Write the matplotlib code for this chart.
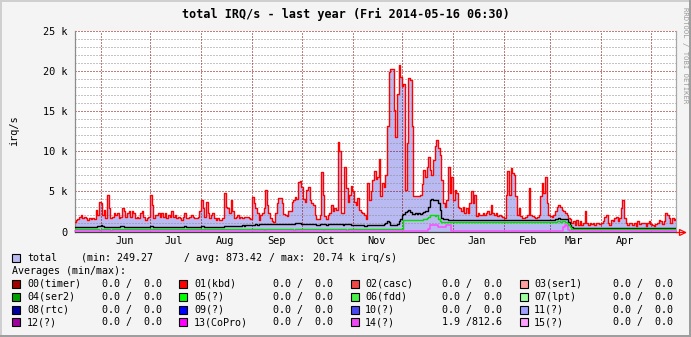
import datetime as dt
import matplotlib
matplotlib.use("Agg")
import matplotlib.pyplot as plt
from matplotlib.patches import Rectangle
from matplotlib.lines import Line2D
import matplotlib.transforms as mtransforms

W, H, DPI = 691, 337, 100
MONO = "DejaVu Sans Mono"

TITLE = "total IRQ/s - last year (Fri 2014-05-16 06:30)"
Y_LABEL = "irq/s"
START = dt.datetime(2013, 5, 16, 6, 30)
END = dt.datetime(2014, 5, 16, 6, 30)

# daily total interrupt rate, thousands per second
may13 = [1.15, 1.45, 1.6, 1.85, 2.1, 1.65, 1.85, 1.7, 1.45, 1.7, 1.5, 1.65, 1.6, 2.7, 2.1, 3.7]
jun13 = [3.6, 2.1, 2.7, 1.65, 4.56, 2.9, 1.65, 1.85, 2.3, 2.1, 2.3, 1.65, 1.85, 2.9, 2.5,
         1.85, 2.3, 2.5, 1.85, 2.5, 2.3, 1.65, 1.85, 1.65, 2.3, 2.5, 1.85, 1.45, 1.65, 1.8]
jul13 = [4.56, 3.3, 1.65, 2.1, 2.1, 2.3, 1.85, 2.3, 1.85, 2.3, 1.65, 2.1, 1.85, 2.5, 1.85, 2.1,
         1.65, 1.85, 1.65, 1.45, 1.85, 2.3, 1.65, 1.65, 1.85, 2.1, 1.85, 1.65, 1.65, 1.85, 2.5]
aug13 = [3.9, 2.9, 1.85, 3.7, 2.3, 1.65, 2.1, 2.3, 1.65, 1.45, 1.65, 1.45, 1.45, 1.65, 4.77, 3.1,
         2.9, 2.3, 3.9, 2.5, 1.65, 1.85, 2.1, 1.65, 1.85, 1.65, 1.85, 1.85, 1.85, 1.65, 1.6]
sep13 = [4.35, 3.5, 2.9, 2.3, 1.45, 2.1, 2.3, 2.9, 5.2, 3.3, 2.3, 1.65, 1.3, 1.2, 2.3,
         3.5, 4.15, 4.2, 3.5, 2.2, 2.1, 1.9, 2.5, 2.5, 3.7, 3.9, 4.3, 4.0, 6.2, 6.3]
oct13 = [5.6, 4.0, 3.7, 5.2, 5.6, 3.9, 3.5, 3.3, 2.1, 1.6, 1.6, 2.0, 7.4, 4.6, 1.9, 1.5,
         2.1, 2.3, 3.3, 2.6, 2.9, 2.7, 11.1, 10.0, 2.3, 2.3, 8.1, 5.4, 3.7, 4.6, 5.7]
nov13 = [5.0, 3.7, 3.3, 4.2, 2.7, 2.4, 2.3, 2.1, 1.6, 6.1, 3.9, 5.0, 6.4, 7.5, 6.6,
         6.85, 9.1, 4.4, 6.0, 5.6, 7.1, 13.1, 19.9, 20.3, 20.3, 15.1, 11.8, 17.2, 20.74, 19.3]
dec13 = [18.2, 18.4, 5.2, 11.0, 19.1, 18.9, 13.1, 4.4, 4.4, 4.4, 4.4, 4.6, 5.9, 7.7, 6.8, 8.1,
         9.3, 7.7, 7.1, 8.9, 10.6, 11.4, 10.4, 9.5, 6.4, 3.5, 3.1, 3.9, 8.1, 4.8, 6.8]
jan14 = [3.9, 5.2, 4.8, 3.1, 2.9, 2.5, 3.1, 2.3, 2.9, 2.3, 3.5, 5.0, 3.5, 4.6, 1.9, 2.3,
         2.1, 2.1, 2.3, 2.1, 2.3, 2.5, 2.2, 3.3, 2.3, 2.1, 2.3, 1.9, 2.1, 1.9, 1.8]
feb14 = [1.7, 4.6, 7.5, 4.6, 7.9, 7.3, 7.1, 4.4, 2.1, 2.9, 1.9, 1.7, 1.7, 1.8,
         2.0, 5.4, 2.1, 1.9, 1.8, 1.7, 1.8, 2.0, 4.4, 6.0, 4.8, 6.8, 3.5, 2.1]
mar14 = [1.9, 1.8, 2.0, 2.5, 3.1, 3.3, 3.1, 2.7, 2.5, 2.3, 2.1, 1.7, 1.5, 1.05, 1.25, 0.85,
         1.45, 0.85, 1.25, 0.85, 1.05, 2.5, 1.05, 0.85, 1.05, 0.95, 1.05, 0.85, 1.05, 1.05, 0.95]
apr14 = [1.05, 1.25, 1.87, 2.1, 1.05, 0.85, 1.45, 1.25, 1.65, 1.87, 1.25, 1.65, 2.9, 3.9, 1.65,
         1.05, 0.85, 1.05, 1.05, 0.85, 1.05, 0.7, 1.25, 0.95, 1.05, 1.05, 1.05, 0.7, 1.05, 1.25]
may14 = [0.95, 0.85, 0.65, 0.95, 1.05, 1.45, 1.25, 0.95, 1.25, 2.3, 2.1, 1.65, 1.05, 1.7, 1.45, 1.6]

# daily base load line (black), thousands per second
base_k = [
    0.58, 0.58, 0.6, 0.58, 0.58, 0.58, 0.6, 0.58, 0.58, 0.58, 0.58, 0.6, 0.58, 0.62, 0.66, 0.74,
    0.78, 0.74, 0.62, 0.58, 0.58, 0.6, 0.58, 0.58, 0.58, 0.58, 0.6, 0.58, 0.66, 0.72, 0.62,
    0.58, 0.58, 0.58, 0.6, 0.58, 0.58, 0.58, 0.58, 0.6, 0.58, 0.58, 0.58, 0.58, 0.6, 0.62,
    0.74, 0.66, 0.58, 0.58, 0.58, 0.6, 0.58, 0.58, 0.58, 0.58, 0.6, 0.58, 0.58, 0.58, 0.58, 0.6,
    0.58, 0.58, 0.58, 0.58, 0.62, 0.66, 0.6, 0.58, 0.58, 0.58, 0.58, 0.6, 0.58, 0.58, 0.62,
    0.74, 0.68, 0.62, 0.6, 0.6, 0.6, 0.58, 0.6, 0.6, 0.6, 0.6, 0.62, 0.6, 0.62, 0.66, 0.64,
    0.66, 0.7, 0.72, 0.7, 0.74, 0.72, 0.74, 0.74, 0.74, 0.76, 0.74, 0.76, 0.76, 0.76, 0.78,
    0.84, 0.86, 0.88, 0.86, 0.88, 0.9, 0.9, 0.92, 0.9, 0.9, 0.88, 0.9, 0.9, 0.92, 0.9,
    0.9, 0.92, 0.94, 0.92, 0.92, 0.9, 0.92, 0.94, 0.96, 0.96, 0.98, 1.0, 1.02, 1.04, 1.02,
    0.98, 0.94, 0.92, 0.9, 0.9, 0.88, 0.9, 0.9, 0.88, 0.86, 0.86, 0.9, 0.94, 0.92, 0.88, 0.86,
    0.88, 0.9, 0.9, 0.92, 0.9, 0.9, 0.96, 0.94, 0.88, 0.86, 0.9, 0.92, 0.9, 0.88, 0.86,
    0.84, 0.8, 0.78, 0.78, 0.76, 0.76, 0.76, 0.74, 0.74, 0.76, 0.76, 0.78, 0.76, 0.76, 0.78,
    0.8, 0.82, 0.8, 0.78, 0.9, 1.1, 1.25, 1.2, 0.86, 0.8, 0.8, 0.84, 0.9, 1.25, 1.6,
    2.1, 2.2, 2.4, 2.5, 2.7, 2.4, 2.2, 2.2, 2.3, 2.2, 2.3, 2.2, 2.3, 2.4, 2.5, 2.6,
    3.1, 3.9, 4.0, 3.9, 3.9, 3.9, 3.6, 2.7, 1.7, 1.6, 1.5, 1.5, 1.45, 1.45, 1.42,
    1.42, 1.4, 1.4, 1.4, 1.38, 1.4, 1.4, 1.38, 1.4, 1.4, 1.4, 1.42, 1.4, 1.4, 1.38, 1.38,
    1.4, 1.4, 1.4, 1.38, 1.4, 1.4, 1.4, 1.4, 1.38, 1.4, 1.4, 1.4, 1.38, 1.4, 1.4,
    1.4, 1.42, 1.44, 1.42, 1.42, 1.4, 1.42, 1.4, 1.4, 1.4, 1.38, 1.4, 1.4, 1.4,
    1.4, 1.42, 1.4, 1.4, 1.4, 1.38, 1.4, 1.4, 1.42, 1.44, 1.44, 1.42, 1.4, 1.4,
    1.4, 1.42, 1.45, 1.6, 1.62, 1.64, 1.62, 1.6, 1.58, 1.55, 1.5, 1.2, 0.8, 0.5, 0.42, 0.42,
    0.42, 0.42, 0.44, 0.42, 0.42, 0.42, 0.42, 0.42, 0.44, 0.42, 0.42, 0.42, 0.42, 0.42, 0.42,
    0.42, 0.42, 0.42, 0.44, 0.42, 0.42, 0.42, 0.42, 0.42, 0.42, 0.42, 0.44, 0.42, 0.42, 0.42,
    0.42, 0.42, 0.42, 0.42, 0.42, 0.44, 0.42, 0.42, 0.42, 0.42, 0.42, 0.42, 0.42, 0.42, 0.42,
    0.42, 0.42, 0.42, 0.42, 0.44, 0.42, 0.42, 0.42, 0.42, 0.42, 0.42, 0.42, 0.42, 0.42, 0.42, 0.42,
]

# daily 05(?) rate (green), thousands per second
irq05_k = [
    0.32, 0.32, 0.32, 0.32, 0.32, 0.32, 0.32, 0.32, 0.32, 0.32, 0.32, 0.32, 0.32, 0.32, 0.32, 0.2,
    0.32, 0.32, 0.32, 0.32, 0.32, 0.32, 0.2, 0.32, 0.32, 0.32, 0.32, 0.32, 0.32, 0.32, 0.32,
    0.32, 0.32, 0.32, 0.32, 0.32, 0.32, 0.32, 0.32, 0.32, 0.32, 0.32, 0.32, 0.32, 0.32, 0.32,
    0.32, 0.32, 0.32, 0.32, 0.32, 0.32, 0.32, 0.32, 0.32, 0.32, 0.32, 0.32, 0.32, 0.32, 0.32, 0.32,
    0.32, 0.32, 0.32, 0.32, 0.32, 0.32, 0.32, 0.32, 0.32, 0.32, 0.32, 0.32, 0.32, 0.32, 0.32,
    0.32, 0.32, 0.32, 0.32, 0.32, 0.32, 0.32, 0.32, 0.32, 0.32, 0.32, 0.32, 0.32, 0.32, 0.32, 0.32,
    0.32, 0.32, 0.32, 0.32, 0.32, 0.32, 0.32, 0.32, 0.32, 0.32, 0.32, 0.32, 0.32, 0.32, 0.32,
    0.32, 0.32, 0.32, 0.32, 0.32, 0.32, 0.32, 0.2, 0.32, 0.32, 0.32, 0.32, 0.32, 0.32, 0.32,
    0.32, 0.32, 0.32, 0.32, 0.32, 0.32, 0.32, 0.32, 0.32, 0.32, 0.2, 0.32, 0.32, 0.32, 0.32,
    0.32, 0.32, 0.32, 0.32, 0.32, 0.32, 0.32, 0.32, 0.32, 0.32, 0.32, 0.32, 0.32, 0.2, 0.32, 0.32,
    0.32, 0.32, 0.32, 0.32, 0.32, 0.32, 0.32, 0.32, 0.32, 0.32, 0.32, 0.2, 0.32, 0.32, 0.32,
    0.32, 0.32, 0.32, 0.32, 0.32, 0.32, 0.32, 0.32, 0.32, 0.32, 0.32, 0.32, 0.32, 0.32, 0.32,
    0.32, 0.32, 0.32, 0.32, 0.32, 0.32, 0.32, 0.32, 0.32, 0.32, 0.32, 0.32, 0.32, 0.32, 0.32,
    0.32, 1.4, 1.42, 1.4, 1.4, 1.4, 1.4, 1.4, 1.42, 1.4, 1.4, 1.42, 1.45, 1.5, 1.55, 1.65,
    1.8, 2.05, 2.1, 2.0, 1.95, 2.1, 1.5, 1.25, 1.2, 1.18, 1.16, 1.15, 1.15, 1.15, 1.15,
    1.15, 1.15, 1.15, 1.15, 1.15, 1.15, 1.15, 1.15, 1.15, 1.15, 1.15, 1.15, 1.15, 1.15, 1.15, 1.15,
    1.15, 1.15, 1.15, 1.15, 1.15, 1.15, 1.15, 1.15, 1.15, 1.15, 1.15, 1.15, 1.15, 1.15, 1.15,
    1.15, 1.15, 1.15, 1.15, 1.15, 1.15, 1.15, 1.15, 1.15, 1.15, 1.15, 1.15, 1.15, 1.15,
    1.15, 1.15, 1.15, 1.15, 1.15, 1.15, 1.15, 1.15, 1.15, 1.15, 1.15, 1.15, 1.15, 1.15,
    1.15, 1.15, 1.18, 1.2, 1.3, 1.25, 1.2, 1.3, 1.25, 1.2, 1.0, 0.8, 0.5, 0.36, 0.36, 0.36,
    0.36, 0.36, 0.36, 0.36, 0.36, 0.36, 0.36, 0.36, 0.36, 0.36, 0.36, 0.36, 0.36, 0.36, 0.36,
    0.36, 0.36, 0.36, 0.36, 0.36, 0.36, 0.36, 0.36, 0.36, 0.36, 0.36, 0.36, 0.36, 0.36, 0.36,
    0.36, 0.36, 0.36, 0.36, 0.36, 0.36, 0.36, 0.36, 0.36, 0.36, 0.36, 0.36, 0.36, 0.36, 0.36,
    0.36, 0.36, 0.36, 0.36, 0.36, 0.36, 0.36, 0.36, 0.36, 0.36, 0.36, 0.36, 0.36, 0.36, 0.36, 0.36,
]

# daily 14(?) rate (magenta), thousands per second
irq14_k = [
    0.0019, 0.0019, 0.0019, 0.0019, 0.0019, 0.0019, 0.0019, 0.0019, 0.0019, 0.0019, 0.0019, 0.0019, 0.0019, 0.0019, 0.0019, 0.0019,
    0.0019, 0.0019, 0.0019, 0.0019, 0.0019, 0.0019, 0.0019, 0.0019, 0.0019, 0.0019, 0.0019, 0.0019, 0.0019, 0.0019, 0.0019,
    0.0019, 0.0019, 0.0019, 0.0019, 0.0019, 0.0019, 0.0019, 0.0019, 0.0019, 0.0019, 0.0019, 0.0019, 0.0019, 0.0019, 0.0019,
    0.0019, 0.0019, 0.0019, 0.0019, 0.0019, 0.0019, 0.0019, 0.0019, 0.0019, 0.0019, 0.0019, 0.0019, 0.0019, 0.0019, 0.0019, 0.0019,
    0.0019, 0.0019, 0.0019, 0.0019, 0.0019, 0.0019, 0.0019, 0.0019, 0.0019, 0.0019, 0.0019, 0.0019, 0.0019, 0.0019, 0.0019,
    0.0019, 0.0019, 0.0019, 0.0019, 0.0019, 0.0019, 0.0019, 0.0019, 0.0019, 0.0019, 0.0019, 0.0019, 0.0019, 0.0019, 0.0019, 0.0019,
    0.0019, 0.0019, 0.0019, 0.0019, 0.0019, 0.0019, 0.0019, 0.0019, 0.0019, 0.0019, 0.0019, 0.0019, 0.0019, 0.0019, 0.0019,
    0.0019, 0.0019, 0.0019, 0.0019, 0.0019, 0.0019, 0.0019, 0.0019, 0.0019, 0.0019, 0.0019, 0.0019, 0.0019, 0.0019, 0.0019,
    0.0019, 0.0019, 0.0019, 0.0019, 0.0019, 0.0019, 0.0019, 0.0019, 0.0019, 0.0019, 0.0019, 0.0019, 0.0019, 0.0019, 0.0019,
    0.0019, 0.0019, 0.0019, 0.0019, 0.0019, 0.0019, 0.0019, 0.0019, 0.0019, 0.0019, 0.0019, 0.0019, 0.0019, 0.0019, 0.0019, 0.0019,
    0.0019, 0.0019, 0.0019, 0.0019, 0.0019, 0.0019, 0.0019, 0.0019, 0.0019, 0.0019, 0.0019, 0.0019, 0.0019, 0.0019, 0.0019,
    0.0019, 0.0019, 0.0019, 0.0019, 0.0019, 0.0019, 0.0019, 0.0019, 0.0019, 0.0019, 0.0019, 0.0019, 0.0019, 0.0019, 0.0019,
    0.0019, 0.0019, 0.0019, 0.0019, 0.0019, 0.0019, 0.0019, 0.0019, 0.0019, 0.0019, 0.0019, 0.0019, 0.0019, 0.0019, 0.0019,
    0.0019, 0.0019, 0.0019, 0.0019, 0.0019, 0.0019, 0.0019, 0.0019, 0.0019, 0.0019, 0.0019, 0.0019, 0.0019, 0.0019, 0.0019, 0.0019,
    0.3, 0.8, 0.78, 0.8, 0.79, 0.8, 0.62, 0.6, 0.6, 0.62, 0.6, 0.78, 0.8126, 0.8, 0.0019,
    0.0019, 0.0019, 0.0019, 0.0019, 0.0019, 0.0019, 0.0019, 0.0019, 0.0019, 0.0019, 0.0019, 0.0019, 0.0019, 0.0019, 0.0019, 0.0019,
    0.0019, 0.0019, 0.0019, 0.0019, 0.0019, 0.0019, 0.0019, 0.0019, 0.0019, 0.0019, 0.0019, 0.0019, 0.0019, 0.0019, 0.0019,
    0.0019, 0.0019, 0.0019, 0.0019, 0.0019, 0.0019, 0.0019, 0.0019, 0.0019, 0.0019, 0.0019, 0.0019, 0.0019, 0.0019,
    0.0019, 0.0019, 0.0019, 0.0019, 0.0019, 0.0019, 0.0019, 0.0019, 0.0019, 0.0019, 0.0019, 0.0019, 0.0019, 0.0019,
    0.0019, 0.0019, 0.0019, 0.0019, 0.0019, 0.0019, 0.0019, 0.0019, 0.5, 0.8, 0.65, 0.2, 0.0019, 0.0019, 0.0019, 0.0019,
    0.0019, 0.0019, 0.0019, 0.0019, 0.0019, 0.0019, 0.0019, 0.0019, 0.0019, 0.0019, 0.0019, 0.0019, 0.0019, 0.0019, 0.0019,
    0.0019, 0.0019, 0.0019, 0.0019, 0.0019, 0.0019, 0.0019, 0.0019, 0.0019, 0.0019, 0.0019, 0.0019, 0.0019, 0.0019, 0.0019,
    0.0019, 0.0019, 0.0019, 0.0019, 0.0019, 0.0019, 0.0019, 0.0019, 0.0019, 0.0019, 0.0019, 0.0019, 0.0019, 0.0019, 0.0019,
    0.0019, 0.0019, 0.0019, 0.0019, 0.0019, 0.0019, 0.0019, 0.0019, 0.0019, 0.0019, 0.0019, 0.0019, 0.0019, 0.0019, 0.0019, 0.0019,
]

month_labels = ["Jun", "Jul", "Aug", "Sep", "Oct", "Nov", "Dec", "Jan", "Feb", "Mar", "Apr"]
month_years = [2013, 2013, 2013, 2013, 2013, 2013, 2013, 2014, 2014, 2014, 2014]
month_numbers = [6, 7, 8, 9, 10, 11, 12, 1, 2, 3, 4]

y_ticks = [0, 5, 10, 15, 20, 25]
y_tick_labels = ["0", "5 k", "10 k", "15 k", "20 k", "25 k"]

total_min, total_avg, total_max = 249.27, 873.42, 20.74

irq_names = ["00(timer)", "01(kbd)", "02(casc)", "03(ser1)",
             "04(ser2)", "05(?)", "06(fdd)", "07(lpt)",
             "08(rtc)", "09(?)", "10(?)", "11(?)",
             "12(?)", "13(CoPro)", "14(?)", "15(?)"]
irq_avg_min = [0.0, 0.0, 0.0, 0.0, 0.0, 0.0, 0.0, 0.0,
               0.0, 0.0, 0.0, 0.0, 0.0, 0.0, 1.9, 0.0]
irq_avg_max = [0.0, 0.0, 0.0, 0.0, 0.0, 0.0, 0.0, 0.0,
               0.0, 0.0, 0.0, 0.0, 0.0, 0.0, 812.6, 0.0]
irq_colors = ["#a00000", "#ff0000", "#f04848", "#ffa0a0",
              "#00a000", "#00ff00", "#48f048", "#a0ffa0",
              "#0000a0", "#0000ff", "#4848f0", "#a0a0ff",
              "#a000a0", "#ff00ff", "#f048f0", "#ffa0ff"]

TOTAL_FILL = "#babaf2"
TOTAL_LINE = "#ff0000"
BASE_LINE = "#000000"
IRQ05_LINE = "#00e000"
IRQ14_LINE = "#ff4cff"
MAJOR_GRID = "#800000"
MINOR_GRID = "#8c8c8c"

total_k = may13 + jun13 + jul13 + aug13 + sep13 + oct13 + nov13 + dec13 + jan14 + feb14 + mar14 + apr14 + may14
days = [START + dt.timedelta(days=i) for i in range(len(total_k))]

fig = plt.figure(figsize=(W / DPI, H / DPI), dpi=DPI, facecolor="#f4f4f4")


def fig_rect(x, y, w, h, color):
    fig.patches.append(Rectangle((x / W, 1 - (y + h) / H), w / W, h / H,
                                 transform=fig.transFigure, facecolor=color,
                                 edgecolor="none", zorder=0))


# bevelled image border
fig_rect(0, 0, W, 2, "#cfcfcf")
fig_rect(0, 0, 2, H, "#cfcfcf")
fig_rect(W - 2, 0, 2, H, "#9e9e9e")
fig_rect(0, H - 2, W, 2, "#9e9e9e")

PL, PR, PT, PB = 75, 676, 31, 231.5
ax = fig.add_axes([PL / W, 1 - PB / H, (PR - PL) / W, (PB - PT) / H])
ax.set_facecolor("white")
ax.set_xlim(START, END)
ax.set_ylim(0, 25)

# data
ax.fill_between(days, total_k, step="mid", color=TOTAL_FILL, lw=0, zorder=1)

# dotted grid on top of the area, as rrdtool draws it
dots = (0, (1.0, 2.0))
for v in range(1, 25):
    if v % 5:
        ax.axhline(v, color=MINOR_GRID, lw=0.72, ls=dots, zorder=2)
for v in y_ticks[1:]:
    ax.axhline(v, color=MAJOR_GRID, lw=0.72, ls=dots, zorder=2)
month_starts = [dt.datetime(y, m, 1) for y, m in zip(month_years, month_numbers)] + [dt.datetime(2014, 5, 1)]
for d in month_starts:
    ax.axvline(d, color=MAJOR_GRID, lw=0.72, ls=dots, zorder=2)

ax.plot(days, total_k, drawstyle="steps-mid", color=TOTAL_LINE, lw=1.0, zorder=3)
ax.plot(days, base_k, drawstyle="steps-mid", color=BASE_LINE, lw=1.0, zorder=4)
ax.plot(days, irq05_k, drawstyle="steps-mid", color=IRQ05_LINE, lw=1.0, zorder=4)
ax.plot(days, irq14_k, drawstyle="steps-mid", color=IRQ14_LINE, lw=1.1, zorder=5, clip_on=False)

# axes and ticks
ax.spines["top"].set_visible(False)
ax.spines["left"].set_color("#8c8c8c")
ax.spines["right"].set_color("#a8a8a8")
ax.spines["bottom"].set_color("#404040")
for s in ax.spines.values():
    s.set_linewidth(0.9)

ax.set_yticks(y_ticks, y_tick_labels)
mid_months = [dt.datetime(y, m, 15, 12) for y, m in zip(month_years, month_numbers)]
ax.set_xticks(mid_months, month_labels)
ax.tick_params(axis="y", length=0, pad=5.2, labelsize=7.4)
ax.tick_params(axis="x", length=0, pad=3.2, labelsize=7.4)
for lab in ax.get_xticklabels() + ax.get_yticklabels():
    lab.set_family(MONO)

# arrow at the end of the time axis
tr = mtransforms.blended_transform_factory(ax.transAxes, ax.transData)
ax.add_line(Line2D([1.0, 1.0 + 9 / (PR - PL)], [0, 0], transform=tr, color="red",
                   lw=0.9, clip_on=False, zorder=6))
ax.add_line(Line2D([1.0 + 6 / (PR - PL)], [0], transform=tr, color="red", marker=">",
                   markersize=5, fillstyle="none", markeredgewidth=0.9, clip_on=False, zorder=6))

# texts
fig.text(0.5, 1 - 14.5 / H, TITLE, ha="center", va="center", family=MONO,
         fontsize=8.5, fontweight="bold")
fig.text(14 / W, 1 - 131 / H, Y_LABEL, rotation=90, ha="center", va="center",
         family=MONO, fontsize=7.4)
fig.text(685.5 / W, 1 - 7 / H, "RRDTOOL / TOBI OETIKER", rotation=270, ha="center",
         va="top", family=MONO, fontsize=5.2, color="#9a9a9a")


def ftext(x, y, s, **kw):
    fig.text(x / W, 1 - y / H, s, ha="left", va="center", family=MONO, fontsize=7.2, **kw)


def swatch(x, y, color):
    fig.patches.append(Rectangle((x / W, 1 - (y + 4) / H), 8 / W, 8 / H,
                                 transform=fig.transFigure, facecolor=color,
                                 edgecolor="black", lw=0.8, zorder=3))


swatch(12, 258, TOTAL_FILL)
ftext(27, 258, "total")
ftext(81, 258, f"(min: {total_min:.2f}")
ftext(184, 258, f"/ avg: {total_avg:.2f}")
ftext(269, 258, "/ max:")
ftext(313, 258, f"{total_max:.2f} k irq/s)")
ftext(12, 270.5, "Averages (min/max):")

sw_x = [12, 179, 351, 520]
name_x = [27, 194, 365, 534]
val_x = [102, 273, 442, 613]
row_y = [284, 296.7, 309.5, 322.3]
for k, name in enumerate(irq_names):
    r, c = divmod(k, 4)
    swatch(sw_x[c], row_y[r], irq_colors[k])
    ftext(name_x[c], row_y[r], name)
    ftext(val_x[c], row_y[r], f"{irq_avg_min[k]:3.1f} /{irq_avg_max[k]:5.1f}")

fig.savefig("out.png", dpi=DPI, facecolor=fig.get_facecolor())
